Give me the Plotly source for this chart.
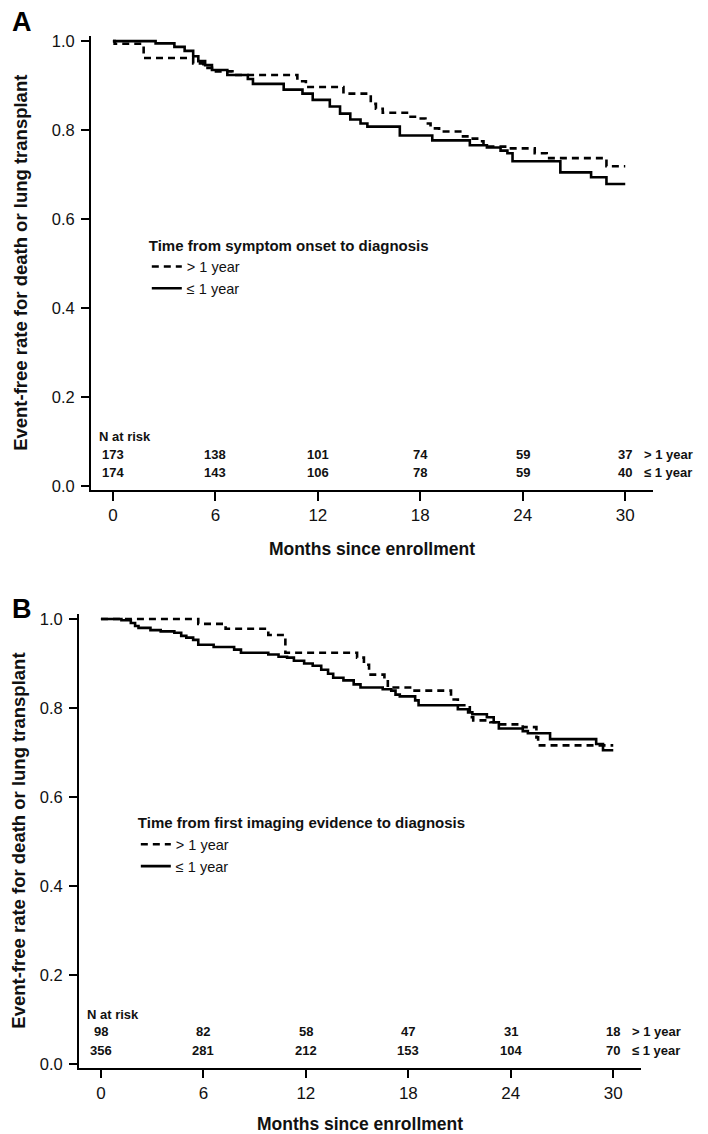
import plotly.graph_objects as go

# The page body has an 8 px default margin, so the figure is drawn 8 px in
# from the top-left corner; size it so that it fills the 708x1134 window.
OFF = 8
W, H = 708 - OFF, 1134 - OFF

# ---------------- data ----------------
months_ticks = [0, 6, 12, 18, 24, 30]

# Panel A: time from symptom onset to diagnosis
A_gt_t = [0, 0.1, 1.8, 4.7, 5.3, 5.8, 7.0, 10.8, 11.3, 13.5, 15.1, 15.4, 15.8, 17.3, 17.9, 18.3,
          18.6, 19.1, 20.5, 20.9, 21.5, 21.7, 23.1, 24.7, 25.4, 28.9, 30.0]
A_gt_s = [1.0, 0.994, 0.962, 0.95, 0.94, 0.932, 0.924, 0.91, 0.897, 0.882, 0.859, 0.848, 0.839, 0.830,
          0.826, 0.815, 0.804, 0.797, 0.786, 0.781, 0.775, 0.763, 0.759, 0.748, 0.737, 0.719, 0.719]
A_le_t = [0, 2.5, 3.6, 4.2, 4.7, 5.0, 5.4, 5.8, 6.7, 7.9, 8.2, 10.0, 11.1, 11.7, 12.7, 13.3, 13.9,
          14.5, 14.9, 16.8, 18.7, 20.9, 21.9, 22.7, 23.1, 23.4, 26.2, 28.0, 28.9, 30.0]
A_le_s = [1.0, 0.995, 0.987, 0.978, 0.966, 0.955, 0.946, 0.935, 0.924, 0.915, 0.904, 0.891, 0.882,
          0.868, 0.853, 0.837, 0.824, 0.815, 0.808, 0.788, 0.777, 0.766, 0.761, 0.754, 0.748, 0.730,
          0.705, 0.694, 0.679, 0.679]
A_risk_gt = [173, 138, 101, 74, 59, 37]
A_risk_le = [174, 143, 106, 78, 59, 40]

# Panel B: time from first imaging evidence to diagnosis
B_gt_t = [0, 5.7, 7.3, 9.8, 10.8, 15.0, 15.4, 15.7, 16.6, 16.8, 18.2, 20.5, 20.9, 21.6, 21.8, 22.8,
          23.2, 24.7, 25.5, 25.6, 30.0]
B_gt_s = [1.0, 0.989, 0.978, 0.964, 0.924, 0.913, 0.897, 0.875, 0.864, 0.846, 0.839, 0.819, 0.806,
          0.779, 0.772, 0.768, 0.763, 0.757, 0.734, 0.716, 0.716]
B_le_t = [0, 1.2, 1.75, 2.0, 2.2, 2.9, 3.5, 4.3, 4.7, 5.0, 5.4, 5.7, 6.6, 7.8, 8.2, 9.8, 10.4, 10.9,
          11.3, 11.9, 12.4, 12.9, 13.3, 13.6, 14.2, 14.8, 15.2, 16.5, 17.0, 17.25, 17.5, 18.4, 18.6,
          20.9, 21.5, 21.75, 22.6, 23.0, 23.3, 24.7, 25.0, 26.3, 29.0, 29.4, 30.0]
B_le_s = [1.0, 0.997, 0.991, 0.984, 0.98, 0.975, 0.972, 0.969, 0.962, 0.958, 0.953, 0.942, 0.937,
          0.931, 0.924, 0.920, 0.915, 0.913, 0.906, 0.900, 0.895, 0.886, 0.877, 0.868, 0.862, 0.853,
          0.846, 0.842, 0.839, 0.830, 0.826, 0.817, 0.806, 0.797, 0.790, 0.786, 0.779, 0.768, 0.754,
          0.748, 0.743, 0.730, 0.719, 0.705, 0.705]
B_risk_gt = [98, 82, 58, 47, 31, 18]
B_risk_le = [356, 281, 212, 153, 104, 70]

group_labels = ["> 1 year", "≤ 1 year"]
legend_titles = ["Time from symptom onset to diagnosis",
                 "Time from first imaging evidence to diagnosis"]
panel_letters = ["A", "B"]
y_title = "Event-free rate for death or lung transplant"
x_title = "Months since enrollment"

# ---------------- figure ----------------
FONT = "Liberation Sans, Arial, sans-serif"
NARROW = "Liberation Sans Narrow, Arial Narrow, Liberation Sans, Arial, sans-serif"
INK = "#111111"


def px_x(p):
    """window pixel x -> paper fraction"""
    return (p - OFF) / W


def px_y(p):
    """window pixel y -> paper fraction"""
    return 1 - (p - OFF) / H


fig = go.Figure()

panels = [
    dict(gt=(A_gt_t, A_gt_s), le=(A_le_t, A_le_s), risk=(A_risk_gt, A_risk_le),
         xa="x", ya="y", legend="legend"),
    dict(gt=(B_gt_t, B_gt_s), le=(B_le_t, B_le_s), risk=(B_risk_gt, B_risk_le),
         xa="x2", ya="y2", legend="legend2"),
]

for p in panels:
    fig.add_trace(go.Scatter(x=p["gt"][0], y=p["gt"][1], mode="lines", line_shape="hv",
                             line=dict(color="black", width=2.6, dash="7px,5px"),
                             name=group_labels[0], xaxis=p["xa"], yaxis=p["ya"],
                             legend=p["legend"]))
    fig.add_trace(go.Scatter(x=p["le"][0], y=p["le"][1], mode="lines", line_shape="hv",
                             line=dict(color="black", width=2.6),
                             name=group_labels[1], xaxis=p["xa"], yaxis=p["ya"],
                             legend=p["legend"]))

# N at risk tables
annotations = []
risk_font = dict(family=FONT, size=13, color=INK, weight="bold")
for p in panels:
    xref, yref = p["xa"], p["ya"]
    annotations.append(dict(x=-0.95, y=0.112, xref=xref, yref=yref, text="N at risk",
                            showarrow=False, xanchor="left", yanchor="middle", font=risk_font))
    for row, yv in zip(p["risk"], [0.072, 0.030]):
        for m, n in zip(months_ticks, row):
            annotations.append(dict(x=m, y=yv, xref=xref, yref=yref, text=str(n),
                                    showarrow=False, xanchor="center", yanchor="middle",
                                    font=risk_font))
    for lab, yv in zip(group_labels, [0.072, 0.030]):
        annotations.append(dict(x=31.0, y=yv, xref=xref, yref=yref, text=lab,
                                showarrow=False, xanchor="left", yanchor="middle",
                                font=risk_font))

# panel letters
for letter, (cx, cy) in zip(panel_letters, [(21, 18), (21, 610)]):
    annotations.append(dict(x=px_x(cx), y=px_y(cy), xref="paper", yref="paper", text=letter,
                            showarrow=False, xanchor="center", yanchor="middle",
                            font=dict(family=FONT, size=27, color="black", weight="bold")))

yrange = [-0.008, 1.012]
xrange = [-1.29, 31.63]


def xaxis(domain, anchor):
    return dict(domain=domain, anchor=anchor, range=xrange, tickvals=months_ticks,
                showline=True, linecolor="black", linewidth=1.6, ticks="outside", ticklen=9,
                tickwidth=1.6, tickcolor="black", showgrid=False, zeroline=False,
                tickfont=dict(family=NARROW, size=17, color=INK), ticklabelstandoff=0,
                title=dict(text=x_title, standoff=19,
                           font=dict(family=FONT, size=17.5, color=INK, weight="bold")))


def yaxis(domain, anchor):
    return dict(domain=domain, anchor=anchor, range=yrange,
                tickvals=[0, 0.2, 0.4, 0.6, 0.8, 1.0], tickformat=".1f",
                showline=True, linecolor="black", linewidth=1.6, ticks="outside", ticklen=8,
                tickwidth=1.6, tickcolor="black", showgrid=False, zeroline=False,
                tickfont=dict(family=FONT, size=16.5, color=INK), ticklabelstandoff=3,
                title=dict(text=y_title, standoff=19,
                           font=dict(family=FONT, size=18.5, color=INK, weight="bold")))


legend_common = dict(bgcolor="rgba(0,0,0,0)", borderwidth=0, xanchor="left", yanchor="top",
                     font=dict(family=FONT, size=14.5, color=INK), itemwidth=30,
                     tracegroupgap=0)

fig.update_layout(
    width=W, height=H, margin=dict(l=0, r=0, t=0, b=0),
    paper_bgcolor="white", plot_bgcolor="white",
    xaxis=xaxis([px_x(90), px_x(653)], "y"),
    yaxis=yaxis([px_y(490), px_y(32)], "x"),
    xaxis2=xaxis([px_x(78), px_x(641)], "y2"),
    yaxis2=yaxis([px_y(1073), px_y(615)], "x2"),
    legend=dict(x=px_x(146), y=px_y(229),
                title=dict(text=legend_titles[0],
                           font=dict(family=FONT, size=15, color=INK, weight="bold")),
                **legend_common),
    legend2=dict(x=px_x(135), y=px_y(812),
                 title=dict(text=legend_titles[1],
                            font=dict(family=FONT, size=15, color=INK, weight="bold")),
                 **legend_common),
    annotations=annotations,
    showlegend=True,
)

fig.write_html("out.html")
